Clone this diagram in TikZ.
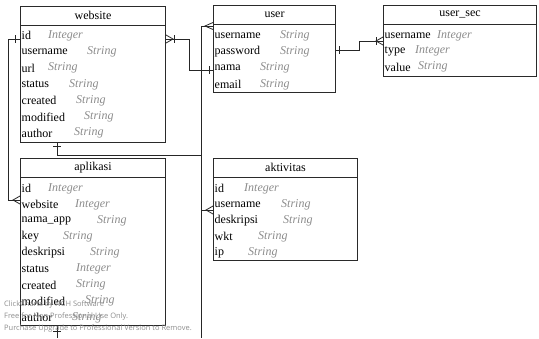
\documentclass[tikz,border=0pt]{standalone}
\usepackage{fontspec}
\setmainfont{Liberation Serif}
\newfontfamily\wmfont{Open Sans}
\usetikzlibrary{calc}
\definecolor{typegray}{HTML}{8C8C8C}
\definecolor{boxline}{HTML}{2A2A2A}
\definecolor{wmgray}{HTML}{8E8E8E}
\tikzset{
  tbl/.style={draw=boxline, line width=1pt, fill=white, inner sep=0pt, anchor=north west},
  hdr/.style={font=\fontsize{12}{12}\selectfont, anchor=center, inner sep=0pt},
  fname/.style={font=\fontsize{12}{12}\selectfont, anchor=west, inner sep=0pt},
  ftype/.style={font=\fontsize{12}{12}\selectfont\itshape, text=typegray, anchor=west, inner sep=0pt},
  conn/.style={draw=black!85, line width=0.8pt},
  wm/.style={font=\wmfont\fontsize{7.5}{7.5}\selectfont, text=wmgray, anchor=west, inner sep=0pt},
}
\newcommand{\erow}[7]{%
  \node[fname] (#1-#2) at (#3,#4) {#5};
  \node[ftype] (#1-#2t) at (#6,#4) {#7};}
\begin{document}
\begin{tikzpicture}[x=1pt,y=-1pt]
\useasboundingbox (0,0) rectangle (539,338);
\fill[white] (0,0) rectangle (539,338);

% ---------- tables ----------
\node[tbl, minimum width=145pt, minimum height=136pt] (website) at (20,6) {};
\node[tbl, minimum width=122pt, minimum height=87pt] (user) at (213,5) {};
\node[tbl, minimum width=153pt, minimum height=71pt] (usersec) at (383,5) {};
\node[tbl, minimum width=145pt, minimum height=167pt] (aplikasi) at (20,158) {};
\node[tbl, minimum width=144pt, minimum height=102pt] (aktivitas) at (213,158) {};

\foreach \t in {website,user,usersec,aplikasi,aktivitas}{
  \draw[draw=boxline, line width=1pt] ($(\t.north west)+(0,19)$) -- ($(\t.north east)+(0,19)$);
}

\node[hdr] (website-h) at ($(website.north)+(0,9.5)$) {website};
\node[hdr] (user-h) at ($(user.north)+(0,9.5)$) {user};
\node[hdr] (usersec-h) at ($(usersec.north)+(0,9.5)$) {user\_sec};
\node[hdr] (aplikasi-h) at ($(aplikasi.north)+(0,9.5)$) {aplikasi};
\node[hdr] (aktivitas-h) at ($(aktivitas.north)+(0,9.5)$) {aktivitas};

% website rows
\erow{web}{1}{21.5}{35.5}{id}{48}{Integer}
\erow{web}{2}{21.5}{51.8}{username}{87}{String}
\erow{web}{3}{21.5}{68.1}{url}{48}{String}
\erow{web}{4}{21.5}{84.4}{status}{69}{String}
\erow{web}{5}{21.5}{100.7}{created}{76}{String}
\erow{web}{6}{21.5}{117.0}{modified}{84}{String}
\erow{web}{7}{21.5}{133.3}{author}{74}{String}

% user rows
\erow{usr}{1}{214.5}{35.5}{username}{280}{String}
\erow{usr}{2}{214.5}{51.8}{password}{280}{String}
\erow{usr}{3}{214.5}{68.1}{nama}{260}{String}
\erow{usr}{4}{214.5}{84.4}{email}{260}{String}

% user_sec rows
\erow{sec}{1}{384.5}{35.5}{username}{437}{Integer}
\erow{sec}{2}{384.5}{51.3}{type}{415}{Integer}
\erow{sec}{3}{384.5}{67.1}{value}{418}{String}

% aplikasi rows
\erow{apl}{1}{21.5}{188.5}{id}{48}{Integer}
\erow{apl}{2}{21.5}{204.6}{website}{75}{Integer}
\erow{apl}{3}{21.5}{220.7}{nama\_app}{97}{String}
\erow{apl}{4}{21.5}{236.8}{key}{63}{String}
\erow{apl}{5}{21.5}{252.9}{deskripsi}{90}{String}
\erow{apl}{6}{21.5}{269.0}{status}{76}{Integer}
\erow{apl}{7}{21.5}{285.1}{created}{76}{String}
\erow{apl}{8}{21.5}{301.2}{modified}{85}{String}
\erow{apl}{9}{21.5}{317.3}{author}{72}{String}

% aktivitas rows
\erow{akt}{1}{214.5}{188.5}{id}{244}{Integer}
\erow{akt}{2}{214.5}{204.6}{username}{281}{String}
\erow{akt}{3}{214.5}{220.7}{deskripsi}{283}{String}
\erow{akt}{4}{214.5}{236.8}{wkt}{258}{String}
\erow{akt}{5}{214.5}{252.9}{ip}{248}{String}

% ---------- connectors ----------
% website -> aplikasi
\coordinate (a1) at ($(website.north west)+(0,33)$);
\coordinate (a2) at ($(aplikasi.north west)+(0,42)$);
\draw[conn] (a1) -- ++(-12,0) |- (a2);
\draw[conn] ($(a1)+(-5,-4)$) -- ($(a1)+(-5,4)$);
\draw[conn] ($(a2)+(0,-4)$) -- ($(a2)+(-7,0)$) -- ($(a2)+(0,4)$);

% website -> user (nama)
\coordinate (b1) at ($(website.north east)+(0,33)$);
\coordinate (b2) at ($(user.north west)+(0,65)$);
\draw[conn] (b1) -- ++(23,0) |- (b2);
\draw[conn] ($(b1)+(0,-4)$) -- ($(b1)+(7,0)$) -- ($(b1)+(0,4)$);
\draw[conn] ($(b1)+(8,-4)$) -- ($(b1)+(8,4)$);
\draw[conn] ($(b2)+(-4,-4)$) -- ($(b2)+(-4,4)$);

% user / website / aktivitas trunk
\coordinate (c1) at ($(user.north west)+(0,21)$);
\coordinate (c2) at ($(aktivitas.north west)+(0,52)$);
\coordinate (c3) at ($(website.south west)+(37,0)$);
\coordinate (c5) at ($(aplikasi.south west)+(37,0)$);
\draw[conn] (c1) -- ++(-12,0) coordinate (cv) -- (cv |- 0,338);
\draw[conn] (c2) -- (c2 -| cv);
\draw[conn] (c3) -- ++(0,12) coordinate (c4) -- (c4 -| cv);
\draw[conn] ($(c1)+(0,-3.5)$) -- ($(c1)+(-8,0)$) -- ($(c1)+(0,3.5)$);
\draw[conn] ($(c2)+(0,-4)$) -- ($(c2)+(-7,0)$) -- ($(c2)+(0,4)$);
\draw[conn] ($(c3)+(-4,3)$) -- ($(c3)+(4,3)$);
\draw[conn] (c5) -- (c5 |- 0,338);
\draw[conn] ($(c5)+(-4,5)$) -- ($(c5)+(4,5)$);

% user -> user_sec
\coordinate (d1) at ($(user.north east)+(0,45)$);
\coordinate (d2) at ($(usersec.north west)+(0,36)$);
\draw[conn] (d1) -- ++(23,0) |- (d2);
\draw[conn] ($(d1)+(3,-4)$) -- ($(d1)+(3,4)$);
\draw[conn] ($(d2)+(0,-4)$) -- ($(d2)+(-7,0)$) -- ($(d2)+(0,4)$);
\draw[conn] ($(d2)+(-7,-4)$) -- ($(d2)+(-7,4)$);

% ---------- watermark ----------
\node[wm] (wm1) at (4,305) {ClickCharts by NCH Software};
\node[wm] (wm2) at (4,317) {Free for Non Professional Use Only.};
\node[wm] (wm3) at (4,329) {Purchase Upgrade to Professional Version to Remove.};
\end{tikzpicture}
\end{document}
